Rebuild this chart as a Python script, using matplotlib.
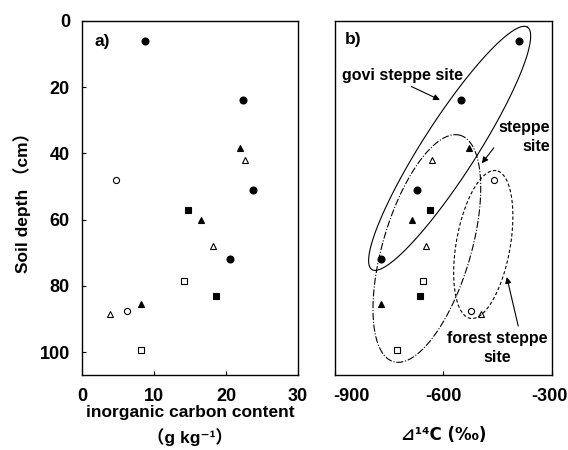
import numpy as np
import matplotlib
matplotlib.use("Agg")
import matplotlib.pyplot as plt
import matplotlib.transforms as mtrans

plt.rcParams['font.family'] = ['Liberation Sans', 'Noto Sans CJK JP', 'DejaVu Sans']
plt.rcParams['font.weight'] = 'bold'

# depth (cm), inorganic carbon (g/kg) and D14C (permil) per marker type
depth_fc = [6, 24, 51, 72]
carbon_fc = [8.7, 22.4, 23.8, 20.6]
d14c_fc = [-391, -552, -674, -774]

depth_ft = [38.5, 60, 85.5]
carbon_ft = [21.9, 16.55, 8.2]
d14c_ft = [-530, -688, -773]

depth_ot = [42, 68, 88.5]
carbon_ot = [22.6, 18.2, 3.8]
d14c_ot = [-631, -648, -496]

depth_fs = [57, 83]
carbon_fs = [14.75, 18.6]
d14c_fs = [-636, -665]

depth_os = [78.6, 99.2]
carbon_os = [14.1, 8.2]
d14c_os = [-656, -728]

depth_oc = [48, 87.5]
carbon_oc = [4.65, 6.25]
d14c_oc = [-460, -524]

series = [
    (depth_fc, carbon_fc, d14c_fc, 'o', 'black', 5.0),
    (depth_ft, carbon_ft, d14c_ft, '^', 'black', 5.0),
    (depth_ot, carbon_ot, d14c_ot, '^', 'white', 4.5),
    (depth_fs, carbon_fs, d14c_fs, 's', 'black', 4.6),
    (depth_os, carbon_os, d14c_os, 's', 'white', 4.4),
    (depth_oc, carbon_oc, d14c_oc, 'o', 'white', 4.4),
]

fig = plt.figure(figsize=(5.68, 4.5), dpi=100)
ax1 = fig.add_axes([0.1452, 0.1656, 0.3794, 0.7884])
ax2 = fig.add_axes([0.5898, 0.1656, 0.382, 0.7884])

for d, c, r, m, fc, ms in series:
    ax1.plot(c, d, linestyle='none', marker=m, markerfacecolor=fc,
             markeredgecolor='black', markeredgewidth=0.8, markersize=ms)
    ax2.plot(r, d, linestyle='none', marker=m, markerfacecolor=fc,
             markeredgecolor='black', markeredgewidth=0.8, markersize=ms)

ax1.set_xlim(0, 30)
ax1.set_ylim(107, 0)
ax1.set_xticks([0, 10, 20, 30])
ax1.set_yticks([0, 20, 40, 60, 80, 100])
ax2.set_xlim(-900, -300)
ax2.set_ylim(107, 0)
ax2.set_xticks([-900, -600, -300])
ax2.set_xticklabels(['-900', '-600', '-300'])
ax2.set_yticks([])

for ax in (ax1, ax2):
    ax.tick_params(direction='in', length=3, width=0.8, labelsize=13, pad=9)
    for s in ax.spines.values():
        s.set_linewidth(1.0)
    for lab in ax.get_xticklabels() + ax.get_yticklabels():
        lab.set_fontweight('bold')

# end labels of the right axis sit inside the chart area, as in the original
labs = ax2.get_xticklabels()
labs[0].set_transform(labs[0].get_transform() +
                      mtrans.ScaledTranslation(16 / 100, 0, fig.dpi_scale_trans))
labs[2].set_transform(labs[2].get_transform() +
                      mtrans.ScaledTranslation(-3 / 100, 0, fig.dpi_scale_trans))

ax1.set_ylabel('Soil depth （cm）', fontsize=12.5, fontweight='bold', labelpad=6)
ax1.set_xlabel('inorganic carbon content\n（g kg⁻¹）', fontsize=12.5,
               fontweight='bold', linespacing=1.55, labelpad=0)
ax2.set_xlabel('⊿¹⁴C (‰)', fontsize=12, fontweight='bold', labelpad=15,
               family=['DejaVu Sans', 'Noto Sans CJK JP'])

ax1.text(1.7, 6.3, 'a)', fontsize=12.5, fontweight='bold', va='center')
ax2.text(-872, 5.7, 'b)', fontsize=12.5, fontweight='bold', va='center')


def draw_ellipse(ax, cx, cy, a_px, b_px, angle, **kw):
    # ellipse defined in screen pixels, centred on a data point
    pos = ax.get_position()
    w_px = pos.width * fig.get_figwidth() * fig.dpi
    h_px = pos.height * fig.get_figheight() * fig.dpi
    x0, x1 = ax.get_xlim()
    y0, y1 = ax.get_ylim()
    sx = w_px / (x1 - x0)
    sy = h_px / abs(y0 - y1)
    t = np.linspace(0, 2 * np.pi, 300)
    th = np.radians(angle)
    px = a_px * np.cos(t) * np.cos(th) - b_px * np.sin(t) * np.sin(th)
    py = a_px * np.cos(t) * np.sin(th) + b_px * np.sin(t) * np.cos(th)
    ax.plot(cx + px / sx, cy - py / sy, color='black', lw=0.8, **kw)


draw_ellipse(ax2, -583, 38.5, 144, 27, 57.3, linestyle='-')
draw_ellipse(ax2, -646, 68.7, 118, 44, 73.5, linestyle='-.')
draw_ellipse(ax2, -490, 67.5, 75, 27, 80, linestyle=(0, (3, 2)))

arrow = dict(arrowstyle='-|>', color='black', lw=0.8, mutation_scale=9)
ax2.annotate('govi steppe site', xy=(-610, 23.9), xytext=(-712, 16.4),
             fontsize=11.5, fontweight='bold', ha='center', va='center',
             arrowprops=dict(arrow, shrinkA=2, shrinkB=0, relpos=(0.5, 0)))
ax2.annotate('steppe\nsite', xy=(-494, 43), xytext=(-306, 35.1),
             fontsize=11.5, fontweight='bold', ha='right', va='center',
             linespacing=1.3,
             arrowprops=dict(arrow, shrinkA=2, shrinkB=0, relpos=(0.0, 0.35)))
ax2.annotate('forest steppe\nsite', xy=(-425, 77.3), xytext=(-451, 98.8),
             fontsize=11.5, fontweight='bold', ha='center', va='center',
             linespacing=1.3,
             arrowprops=dict(arrow, shrinkA=2, shrinkB=0, relpos=(0.72, 1.0)))

fig.savefig('out.png', dpi=100)
